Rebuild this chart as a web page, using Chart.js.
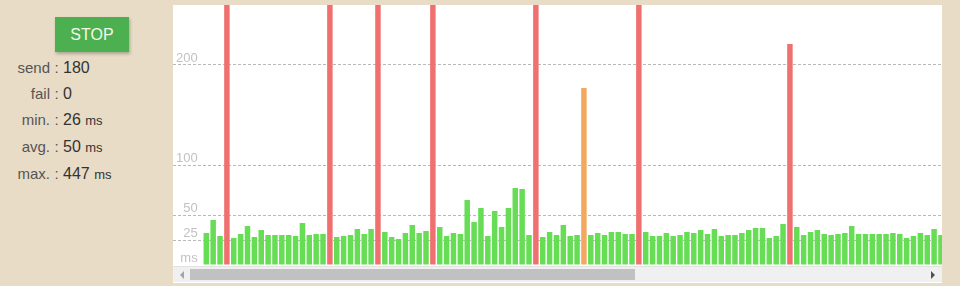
<!DOCTYPE html>
<html>
<head>
<meta charset="utf-8">
<script src="https://cdn.jsdelivr.net/npm/chart.js@4.4.1/dist/chart.umd.min.js"></script>
<style>
  body {
    margin: 0;
    width: 960px;
    height: 286px;
    background: #e8dcc6;
    font-family: "Liberation Sans", Arial, sans-serif;
    overflow: hidden;
    position: relative;
  }
  #stopBtn {
    position: absolute;
    left: 55px;
    top: 17px;
    width: 74px;
    height: 35px;
    background: #4caf50;
    color: #f4fbe8;
    font-size: 16px;
    line-height: 35px;
    text-align: center;
    box-shadow: 1px 2px 3px rgba(0, 0, 0, 0.25);
  }
  .row {
    position: absolute;
    left: 0;
    height: 20px;
    line-height: 20px;
    white-space: nowrap;
  }
  .row .lbl {
    display: inline-block;
    width: 50px;
    text-align: right;
    color: #555;
    font-size: 15px;
  }
  .row .sep {
    display: inline-block;
    width: 13px;
    text-align: center;
    color: #555;
    font-size: 15px;
  }
  .row .val {
    color: #333;
    font-size: 16px;
  }
  .row .unit {
    color: #333;
    font-size: 13px;
  }
  #panel {
    position: absolute;
    left: 173px;
    top: 5px;
    width: 769px;
    height: 278px;
    background: #fff;
  }
  #chartBox {
    position: absolute;
    left: 0;
    top: 0;
    width: 769px;
    height: 260px;
  }
  #scrollTrack {
    position: absolute;
    left: 0;
    top: 261px;
    width: 769px;
    height: 15px;
    background: #f0f0f0;
    border-top: 1px solid #e2e2e2;
  }
  #scrollThumb {
    position: absolute;
    left: 17px;
    top: 2px;
    width: 445px;
    height: 11px;
    background: #c1c1c1;
  }
  .arrow {
    position: absolute;
    top: 4px;
    width: 0;
    height: 0;
    border-top: 4px solid transparent;
    border-bottom: 4px solid transparent;
  }
  #arrowL { left: 7px; border-right: 4px solid #a3a3a3; }
  #arrowR { left: 758px; border-left: 4px solid #505050; }
</style>
</head>
<body>
<div id="stopBtn">STOP</div>
<div class="row" style="top:58px"><span class="lbl">send</span><span class="sep">:</span><span class="val">180</span></div>
<div class="row" style="top:84px"><span class="lbl">fail</span><span class="sep">:</span><span class="val">0</span></div>
<div class="row" style="top:110px"><span class="lbl">min.</span><span class="sep">:</span><span class="val">26</span> <span class="unit">ms</span></div>
<div class="row" style="top:137px"><span class="lbl">avg.</span><span class="sep">:</span><span class="val">50</span> <span class="unit">ms</span></div>
<div class="row" style="top:164px"><span class="lbl">max.</span><span class="sep">:</span><span class="val">447</span> <span class="unit">ms</span></div>

<div id="panel">
  <div id="chartBox"><canvas id="pingChart"></canvas></div>
  <div id="scrollTrack">
    <div id="arrowL" class="arrow"></div>
    <div id="scrollThumb"></div>
    <div id="arrowR" class="arrow"></div>
  </div>
</div>

<script>
// response times (ms) of the visible part of the scroll window
let pingTimes = [
  32, 45, 29, 312, 27, 31, 39, 28, 35, 30,
  30, 30, 30, 29, 42, 30, 31, 31, 289, 28,
  29, 30, 36, 31, 36, 356, 33, 28, 26, 32,
  40, 32, 34, 301, 38, 29, 32, 31, 65, 43,
  57, 29, 54, 38, 57, 77, 76, 30, 447, 28,
  33, 30, 40, 29, 30, 177, 30, 32, 30, 33,
  33, 31, 31, 275, 33, 29, 29, 32, 29, 30,
  33, 32, 35, 31, 36, 29, 30, 30, 32, 35,
  37, 37, 27, 29, 41, 221, 38, 30, 33, 35,
  31, 30, 31, 32, 39, 31, 31, 31, 31, 31,
  32, 31, 27, 29, 32, 30, 36, 30,
];
let tickValues = [0, 25, 50, 100, 200];
let tickUnit = "ms";

function barColor(v) {
  if (v > 200) return "#f07070";
  if (v > 100) return "#f3a862";
  return "#66dd55";
}

let points = pingTimes.map(function (v, i) {
  return { x: i, y: v };
});

const data = {
  datasets: [
    {
      data: points,
      backgroundColor: pingTimes.map(barColor),
      borderWidth: 0,
      categoryPercentage: 0.8,
      barPercentage: 1.0,
    },
  ],
};

const config = {
  type: "bar",
  data: data,
  options: {
    responsive: true,
    maintainAspectRatio: false,
    animation: false,
    layout: { padding: 0 },
    plugins: {
      legend: { display: false },
      tooltip: { enabled: false },
    },
    scales: {
      x: {
        type: "linear",
        display: false,
        offset: false,
        bounds: "data",
        min: -4.85,
        max: 107.15,
      },
      y: {
        min: 0,
        max: 260,
        border: { display: false, dash: [3, 2] },
        afterBuildTicks: function (scale) {
          scale.ticks = tickValues.map(function (v) {
            return { value: v };
          });
        },
        afterFit: function (scale) {
          // labels sit inside the plot, so the axis takes no room
          scale.width = 0;
          scale.paddingTop = 0;
          scale.paddingBottom = 0;
        },
        grid: {
          drawTicks: false,
          color: function (ctx) {
            return ctx.tick && ctx.tick.value === 0 ? "rgba(0,0,0,0)" : "#b8b8b8";
          },
          lineWidth: 1,
        },
        ticks: {
          mirror: true,
          crossAlign: "far",
          padding: 3,
          labelOffset: -7,
          color: "#c2c2c2",
          font: { family: "Liberation Sans, Arial, sans-serif", size: 13 },
          callback: function (v) {
            return v === 0 ? tickUnit : v;
          },
        },
      },
    },
  },
};

const myChart = new Chart(document.getElementById("pingChart"), config);
</script>
</body>
</html>
